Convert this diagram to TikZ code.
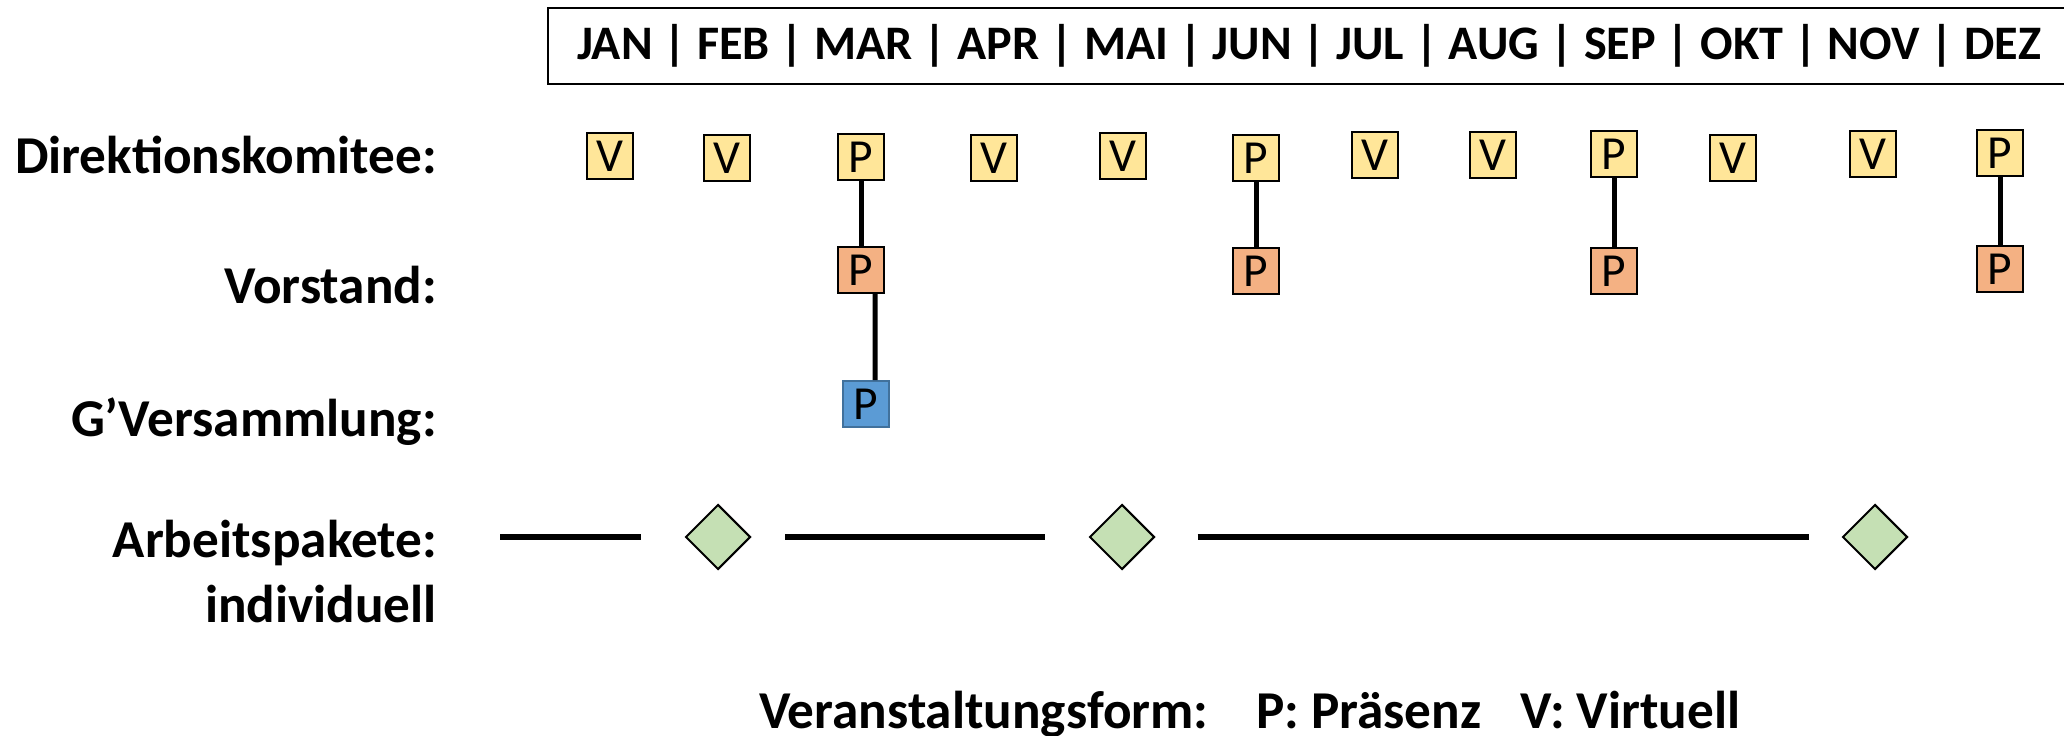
\documentclass[tikz,border=0pt]{standalone}
\usepackage{fontspec}
\setmainfont{Carlito}
\usetikzlibrary{shapes.geometric}

\begin{document}
\begin{tikzpicture}[x=0.02cm, y=-0.02cm]
\tikzset{reihe/.style={anchor=base east, font=\fontsize{30.3}{36}\selectfont\bfseries},
  legendtext/.style={anchor=base west, font=\fontsize{30.3}{36}\selectfont\bfseries},
  termin/.style={draw, line width=0.04cm, inner sep=0pt, minimum width=0.92cm, minimum height=0.92cm, font=\fontsize{27}{32}\selectfont},
  dkbox/.style={termin, fill=dkgelb},
  vsbox/.style={termin, fill=vsorange},
  gvbox/.style={termin, fill=gvblau, draw=gvrand},
  meilenstein/.style={draw, diamond, aspect=1, line width=0.04cm, inner sep=0pt, minimum width=1.3cm, minimum height=1.3cm, fill=apgruen},
  verbindung/.style={line width=0.1cm},
  paket/.style={line width=0.12cm}}
\definecolor{dkgelb}{HTML}{FFE699}
\definecolor{vsorange}{HTML}{F4B183}
\definecolor{gvblau}{HTML}{5B9BD5}
\definecolor{gvrand}{HTML}{41719C}
\definecolor{apgruen}{HTML}{C5E0B4}
\useasboundingbox (0,0) rectangle (2064,736);
\draw[line width=0.04cm] (2070,8) -- (548,8) -- (548,84) -- (2070,84);
\node[font=\fontsize{27.4}{33}\selectfont\bfseries] (monate) at (1309,46) {JAN | FEB | MAR | APR | MAI | JUN | JUL | AUG | SEP | OKT | NOV | DEZ};
\node[reihe] (dk) at (443,174) {Direktionskomitee:};
\node[reihe] (vs) at (443,304) {Vorstand:};
\node[reihe] (gv) at (443,436) {G’Versammlung:};
\node[reihe] (ap) at (443,557) {Arbeitspakete:};
\node[reihe] (ind) at (443,622) {individuell};
\node[dkbox] (dk1) at (610,156) {V};
\node[dkbox] (dk2) at (727,158) {V};
\node[dkbox] (dk3) at (861,157) {P};
\node[dkbox] (dk4) at (994,158) {V};
\node[dkbox] (dk5) at (1123,156) {V};
\node[dkbox] (dk6) at (1256,158) {P};
\node[dkbox] (dk7) at (1375,155) {V};
\node[dkbox] (dk8) at (1493,155) {V};
\node[dkbox] (dk9) at (1614,154) {P};
\node[dkbox] (dk10) at (1733,158) {V};
\node[dkbox] (dk11) at (1873,154) {V};
\node[dkbox] (dk12) at (2000,153) {P};
\node[vsbox] (vs3) at (861,270) {P};
\node[vsbox] (vs6) at (1256,271) {P};
\node[vsbox] (vs9) at (1614,271) {P};
\node[vsbox] (vs12) at (2000,269) {P};
\node[gvbox] (gv3) at (866,404) {P};
\draw[verbindung] (dk3) -- (vs3);
\draw[verbindung] (dk6) -- (vs6);
\draw[verbindung] (dk9) -- (vs9);
\draw[verbindung] (dk12) -- (vs12);
\draw[verbindung] ([xshift=0.28cm]vs3.south) -- ([xshift=0.18cm]gv3.north);
\node[meilenstein] (ms1) at (718,537) {};
\node[meilenstein] (ms2) at (1122,537) {};
\node[meilenstein] (ms3) at (1875,537) {};
\coordinate (apstart) at (500,537);
\draw[paket, shorten >=0.88cm] (apstart) -- (ms1.west);
\draw[paket, shorten <=0.68cm, shorten >=0.88cm] (ms1.east) -- (ms2.west);
\draw[paket, shorten <=0.84cm, shorten >=0.66cm] (ms2.east) -- (ms3.west);
\node[legendtext] (legende) at (753,728) {Veranstaltungsform:};
\node[legendtext] (praesenz) at (1250,728) {P: Präsenz};
\node[legendtext] (virtuell) at (1514,728) {V: Virtuell};
\end{tikzpicture}
\end{document}
